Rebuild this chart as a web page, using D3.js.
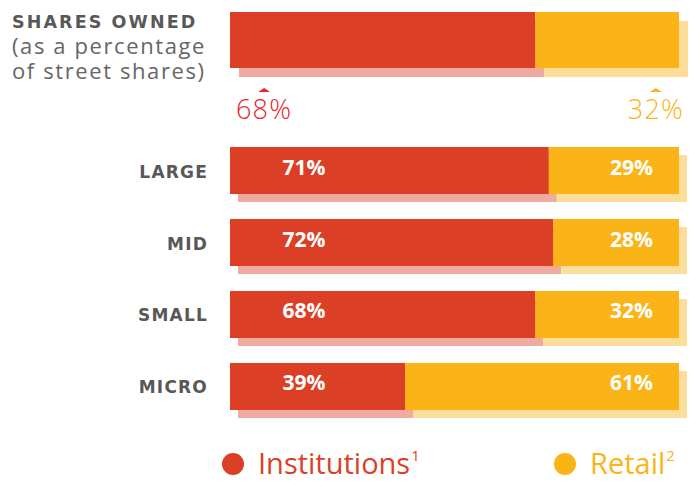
<!DOCTYPE html>
<html>
<head>
<meta charset="utf-8">
<script src="https://cdn.jsdelivr.net/npm/d3@7"></script>
<style>
  body { margin: 0; background: #fff; }
  svg { display: block; font-family: "Open Sans", Lato, sans-serif; }
  .caps { font-family: "DejaVu Sans", "Open Sans", sans-serif; }
</style>
</head>
<body>
<div id="chart"></div>
<script>
// data
var categories = ["LARGE", "MID", "SMALL", "MICRO"];
var institutions = [71, 72, 68, 39];
var retail = [29, 28, 32, 61];
var overall = [68, 32]; // institutions, retail
var seriesNames = ["Institutions", "Retail"];
var seriesNotes = ["1", "2"];

var svgWidth = 690;
var svgHeight = 481;

var red = "#db3f26", yellow = "#fab417";
var redShadow = "#efab9f", yellowShadow = "#fcdd99";
var shadowOffset = 8;

var svg = d3.select("#chart")
    .append("svg")
    .attr("width", svgWidth)
    .attr("height", svgHeight);

var x = d3.scaleLinear()
    .domain([0, 100])
    .range([230, 679]);

var y = d3.scaleBand()
    .domain(categories)
    .range([147, 410])
    .paddingInner(0.347);

// title
svg.append("text")
    .attr("class", "caps")
    .attr("x", 12)
    .attr("y", 28)
    .attr("fill", "#585858")
    .attr("font-size", 17.5)
    .attr("font-weight", 700)
    .attr("letter-spacing", 2.1)
    .text("SHARES OWNED");

svg.selectAll(".sub")
    .data(["(as a percentage", "of street shares)"])
    .enter()
    .append("text")
    .attr("class", "sub")
    .attr("x", 12)
    .attr("y", (d, i) => 54 + i * 25)
    .attr("font-size", 22)
    .attr("letter-spacing", 1.6)
    .attr("fill", "#666")
    .text(d => d);

// draw one stacked bar with its shadow
function stackedBar(g, inst, top, h, off) {
    g.append("rect")
      .attr("x", x(0) + off).attr("y", top + off)
      .attr("width", x(inst) - x(0)).attr("height", h)
      .attr("fill", redShadow);
    g.append("rect")
      .attr("x", x(inst) + off).attr("y", top + off)
      .attr("width", x(100) - x(inst)).attr("height", h)
      .attr("fill", yellowShadow);
    g.append("rect")
      .attr("x", x(0)).attr("y", top)
      .attr("width", x(inst) - x(0)).attr("height", h)
      .attr("fill", red);
    g.append("rect")
      .attr("x", x(inst)).attr("y", top)
      .attr("width", x(100) - x(inst)).attr("height", h)
      .attr("fill", yellow);
}

// overall bar
var topGroup = svg.append("g");
stackedBar(topGroup, overall[0], 12, 56, 9);

var overallColors = ["#e8232b", "#f9b41a"];
var overallLabels = topGroup.selectAll(".overall")
    .data(overall)
    .enter()
    .append("text")
    .attr("class", "overall")
    .attr("x", (d, i) => i === 0 ? x(0) + 6 : x(100) + 5)
    .attr("y", 119)
    .attr("text-anchor", (d, i) => i === 0 ? "start" : "end")
    .attr("font-size", 27)
    .attr("font-weight", 300)
    .attr("letter-spacing", 1.2)
    .attr("fill", (d, i) => overallColors[i])
    .text(d => d + "%");

overallLabels.each(function(d, i) {
    var b = this.getBBox();
    var cx = b.x + b.width / 2;
    topGroup.append("path")
      .attr("d", `M${cx - 6},92 L${cx},88 L${cx + 6},92 Z`)
      .attr("fill", overallColors[i]);
});

// category bars
var rows = svg.selectAll(".row")
    .data(categories)
    .enter()
    .append("g")
    .attr("class", "row");

rows.each(function(c, i) {
    stackedBar(d3.select(this), institutions[i], y(c), y.bandwidth(), shadowOffset);
});

rows.append("text")
    .attr("class", "caps")
    .attr("x", 208)
    .attr("y", c => y(c) + y.bandwidth() / 2 + 7)
    .attr("text-anchor", "end")
    .attr("font-size", 17)
    .attr("font-weight", 700)
    .attr("letter-spacing", 1.2)
    .attr("fill", "#585858")
    .text(c => c);

rows.append("text")
    .attr("x", 304)
    .attr("y", c => y(c) + y.bandwidth() / 2 + 4)
    .attr("text-anchor", "middle")
    .attr("font-size", 21)
    .attr("font-weight", 700)
    .attr("fill", "#fff")
    .text((c, i) => institutions[i] + "%");

rows.append("text")
    .attr("x", 653)
    .attr("y", c => y(c) + y.bandwidth() / 2 + 4)
    .attr("text-anchor", "end")
    .attr("font-size", 21)
    .attr("font-weight", 700)
    .attr("fill", "#fff")
    .text((c, i) => retail[i] + "%");

// legend
var legendX = [233, 565];
var legendColors = [red, yellow];
var legend = svg.selectAll(".legend")
    .data(seriesNames)
    .enter()
    .append("g")
    .attr("class", "legend")
    .attr("transform", (d, i) => `translate(${legendX[i]}, 464)`);

legend.append("circle")
    .attr("r", 11)
    .attr("fill", (d, i) => legendColors[i]);

var legendText = legend.append("text")
    .attr("x", 25)
    .attr("y", 10)
    .attr("font-size", 29)
    .attr("fill", (d, i) => legendColors[i])
    .text(d => d);

legendText.append("tspan")
    .attr("dy", -13)
    .attr("dx", 1)
    .attr("font-size", 15)
    .text((d, i) => seriesNotes[i]);
</script>
</body>
</html>
